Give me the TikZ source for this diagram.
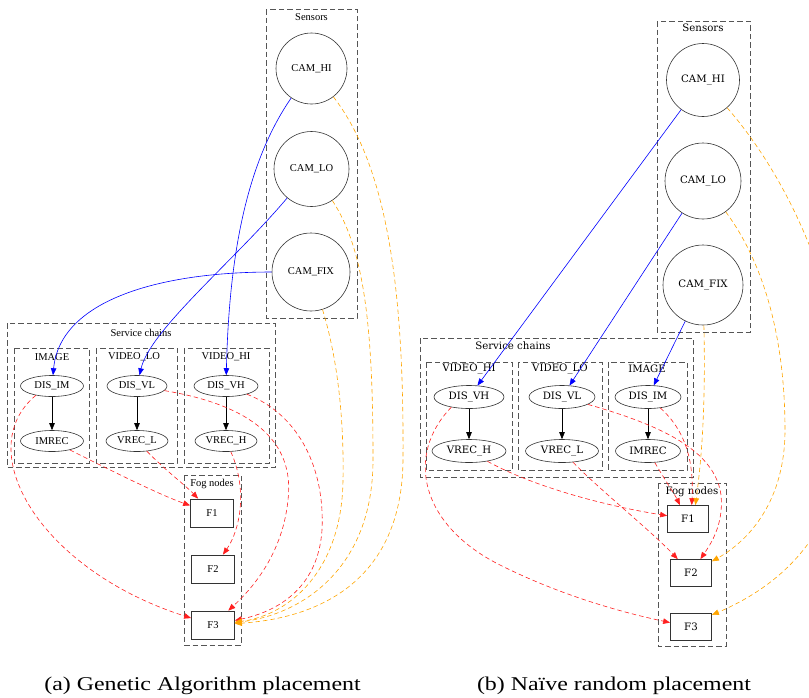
\documentclass[tikz,border=0pt]{standalone}
\usepackage{fontspec}
\setmainfont{Liberation Serif}
\newfontfamily\rfont{DejaVu Serif}
\usetikzlibrary{arrows.meta,shapes.geometric}
\definecolor{clgray}{HTML}{555555}
\definecolor{ndgray}{HTML}{333333}
\definecolor{gvorange}{HTML}{FFA500}
\definecolor{gvred}{HTML}{FF2020}
\begin{document}
\begin{tikzpicture}[x=1pt,y=-1pt,
 clbox/.style={draw=clgray,line width=0.75pt,dash pattern=on 5.5pt off 3pt},
 ltext/.style={font=\fontsize{10.5}{12}\selectfont},
 rtext/.style={font=\rfont\fontsize{10.2}{12}\selectfont},
 cllab/.style={inner sep=0pt},
 cam/.style={circle,draw=ndgray,line width=0.6pt,inner sep=0pt,minimum size=#1},
 svc/.style={ellipse,draw=ndgray,line width=0.6pt,inner sep=0pt,minimum width=#1,minimum height=21pt},
 rsvc/.style={ellipse,draw=ndgray,line width=0.6pt,inner sep=0pt,minimum width=#1,minimum height=23pt},
 fog/.style={rectangle,draw=ndgray,line width=0.75pt,inner sep=0pt,minimum width=43pt,minimum height=28pt},
 rfog/.style={rectangle,draw=ndgray,line width=0.75pt,inner sep=0pt,minimum width=41pt,minimum height=27pt},
 tip/.style={-{Triangle[length=7pt,width=5.5pt]}},
 blueedge/.style={tip,draw=blue,line width=0.6pt},
 blackedge/.style={tip,draw=black,line width=0.6pt},
 rededge/.style={tip,draw=gvred,line width=0.6pt,dash pattern=on 4.5pt off 3pt},
 orangeedge/.style={tip,draw=gvorange,line width=0.6pt,dash pattern=on 4.5pt off 3pt},
 caption/.style={anchor=base,inner sep=0pt,font=\fontsize{19.5}{22}\selectfont}
]
\useasboundingbox (0,0) rectangle (809,697);
\clip (0,0) rectangle (809,697);

% ================= LEFT PANEL =================
% clusters
\draw[clbox] (266,9) rectangle (357,318);
\node[cllab,ltext] (lsenslab) at (311.5,17) {Sensors};
\draw[clbox] (7,323) rectangle (275,467);
\node[cllab,ltext] (lsclab) at (141,333) {Service chains};
\draw[clbox] (14,348) rectangle (89,463);
\node[cllab,ltext] (limglab) at (52,357) {IMAGE};
\draw[clbox] (96,348) rectangle (177,463);
\node[cllab,ltext] (lvllab) at (134,357) {VIDEO\_LO};
\draw[clbox] (184,348) rectangle (269,463);
\node[cllab,ltext] (lvhlab) at (226,357) {VIDEO\_HI};
\draw[clbox] (184,475) rectangle (241,645);
\node[cllab,ltext] (lfoglab) at (212,484) {Fog nodes};

% nodes
\node[cam=71pt,ltext] (LCAMHI) at (311.5,68.5) {CAM\_HI};
\node[cam=75pt,ltext] (LCAMLO) at (311.5,169) {CAM\_LO};
\node[cam=78pt,ltext] (LCAMFIX) at (311,272) {CAM\_FIX};
\node[svc=63pt,ltext] (LDISIM) at (52,386) {DIS\_IM};
\node[svc=63pt,ltext] (LIMREC) at (52,441) {IMREC};
\node[svc=60pt,ltext] (LDISVL) at (137,386) {DIS\_VL};
\node[svc=62pt,ltext] (LVRECL) at (137,441) {VREC\_L};
\node[svc=64pt,ltext] (LDISVH) at (226,386) {DIS\_VH};
\node[svc=62pt,ltext] (LVRECH) at (226,441) {VREC\_H};
\node[fog,ltext] (LF1) at (212,513) {F1};
\node[fog,ltext] (LF2) at (213,569) {F2};
\node[fog,ltext] (LF3) at (213,625) {F3};

% edges
\draw[blueedge] (LCAMHI) .. controls (245,165) and (229,260) .. (LDISVH);
\draw[blueedge] (LCAMLO) .. controls (235,260) and (150,330) .. (LDISVL);
\draw[blueedge] (LCAMFIX) .. controls (160,272) and (60,300) .. (LDISIM);
\draw[blackedge] (LDISIM) -- (LIMREC);
\draw[blackedge] (LDISVL) -- (LVRECL);
\draw[blackedge] (LDISVH) -- (LVRECH);

\draw[rededge] (LDISIM.210) .. controls (-30,450) and (40,570) .. (LF3);
\draw[rededge] (LIMREC) .. controls (110,470) and (160,495) .. (LF1);
\draw[rededge] (LVRECL) .. controls (165,470) and (185,485) .. (LF1);
\draw[rededge] (LDISVL) .. controls (250,405) and (295,440) .. (288,500) .. controls (282,560) and (245,595) .. (LF3);
\draw[rededge] (LDISVH) .. controls (300,415) and (325,470) .. (322,530) .. controls (318,590) and (275,612) .. (LF3);
\draw[rededge] (LVRECH) .. controls (248,490) and (240,530) .. (LF2);

\draw[orangeedge] (LCAMHI) .. controls (390,170) and (404,300) .. (403,460) .. controls (402,580) and (320,618) .. (LF3);
\draw[orangeedge] (LCAMLO) .. controls (365,250) and (373,330) .. (373,460) .. controls (373,570) and (300,615) .. (LF3);
\draw[orangeedge] (LCAMFIX) .. controls (338,360) and (344,420) .. (343,480) .. controls (342,570) and (290,615) .. (LF3);

% ================= RIGHT PANEL =================
\draw[clbox] (657,21) rectangle (750,332);
\node[cllab,rtext] (rsenslab) at (703,28) {Sensors};
\draw[clbox] (420,338) rectangle (693,477);
\node[cllab,rtext] (rsclab) at (513,346) {Service chains};
\draw[clbox] (426,362) rectangle (512,470);
\node[cllab,rtext] (rvhlab) at (469,369) {VIDEO\_HI};
\draw[clbox] (518,362) rectangle (602,470);
\node[cllab,rtext] (rvllab) at (560,369) {VIDEO\_LO};
\draw[clbox] (608,362) rectangle (687,470);
\node[cllab,rtext] (rimglab) at (647,369) {IMAGE};
\draw[clbox] (658,483) rectangle (726,646);
\node[cllab,rtext] (rfoglab) at (692,492) {Fog nodes};

\node[cam=73pt,rtext] (RCAMHI) at (703,80) {CAM\_HI};
\node[cam=76pt,rtext] (RCAMLO) at (703,181) {CAM\_LO};
\node[cam=80pt,rtext] (RCAMFIX) at (703,285) {CAM\_FIX};
\node[rsvc=70pt,rtext] (RDISVH) at (469,397) {DIS\_VH};
\node[rsvc=74pt,rtext] (RVRECH) at (469,451) {VREC\_H};
\node[rsvc=66pt,rtext] (RDISVL) at (562,397) {DIS\_VL};
\node[rsvc=73pt,rtext] (RVRECL) at (562,451) {VREC\_L};
\node[rsvc=66pt,rtext] (RDISIM) at (648,397) {DIS\_IM};
\node[rsvc=65pt,rtext] (RIMREC) at (648,451) {IMREC};
\node[rfog,rtext] (RF1) at (688,519) {F1};
\node[rfog,rtext] (RF2) at (691,573) {F2};
\node[rfog,rtext] (RF3) at (691,627) {F3};

\draw[blueedge] (RCAMHI) -- (RDISVH);
\draw[blueedge] (RCAMLO) -- (RDISVL);
\draw[blueedge] (RCAMFIX) -- (RDISIM);
\draw[blackedge] (RDISVH) -- (RVRECH);
\draw[blackedge] (RDISVL) -- (RVRECL);
\draw[blackedge] (RDISIM) -- (RIMREC);

\draw[rededge] (RDISVH.210) .. controls (405,455) and (420,525) .. (500,565) .. controls (560,595) and (620,612) .. (RF3);
\draw[rededge] (RVRECH) .. controls (530,485) and (600,505) .. (RF1);
\draw[rededge] (RVRECL) .. controls (600,490) and (650,530) .. (RF2);
\draw[rededge] (RDISVL) .. controls (660,425) and (715,450) .. (721,495) .. controls (724,525) and (710,545) .. (RF2);
\draw[rededge] (RDISIM) .. controls (685,430) and (694,460) .. (RF1.75);
\draw[rededge] (RIMREC) .. controls (665,480) and (675,495) .. (RF1.120);

\draw[orangeedge] (RCAMFIX) .. controls (706,420) and (700,470) .. (RF1.62);
\draw[orangeedge] (RCAMLO) .. controls (765,265) and (785,340) .. (785,430) .. controls (785,500) and (750,540) .. (RF2);
\draw[orangeedge] (RCAMHI) .. controls (790,180) and (845,300) .. (845,420) .. controls (845,540) and (770,590) .. (RF3.30);

% captions
\node[caption] (capa) at (202.5,690) {\scalebox{1.225}[1]{(a) Genetic Algorithm placement}};
\node[caption] (capb) at (614,690) {\scalebox{1.225}[1]{(b) Naïve random placement}};
\end{tikzpicture}
\end{document}
